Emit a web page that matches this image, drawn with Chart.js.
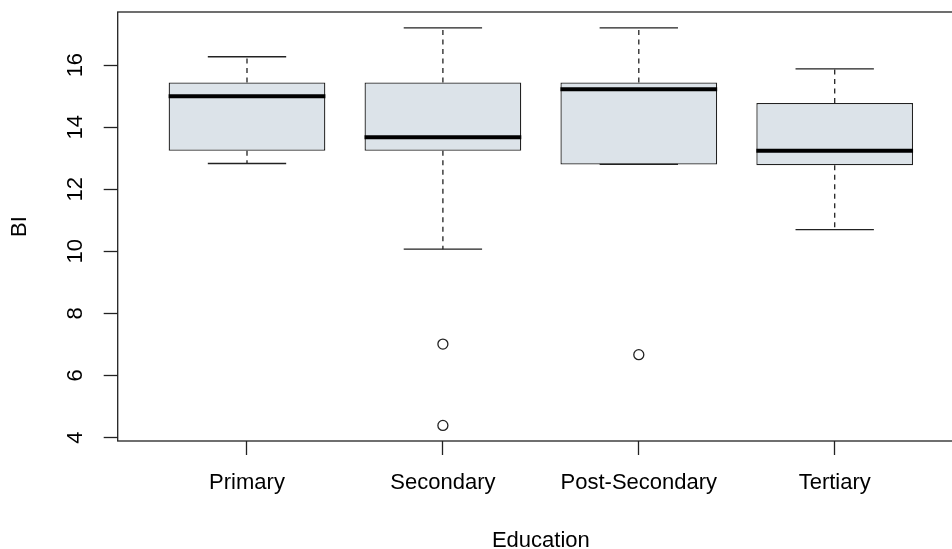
<!DOCTYPE html>
<html>
<head>
<meta charset="utf-8">
<script src="https://cdn.jsdelivr.net/npm/chart.js@4"></script>
<style>
  html, body { margin: 0; padding: 0; background: #fff; overflow: hidden; }
  canvas { display: block; }
</style>
</head>
<body>
<canvas id="chart" width="1000" height="560"></canvas>
<script>
const categories = ["Primary", "Secondary", "Post-Secondary", "Tertiary"];
const whiskerLow = [12.83, 10.07, 12.80, 10.70];
const q1 = [13.24, 13.24, 12.80, 12.77];
const medians = [15.0, 13.68, 15.22, 13.24];
const q3 = [15.44, 15.44, 15.44, 14.78];
const whiskerHigh = [16.27, 17.2, 17.2, 15.88];
const outlierGroup = [2, 2, 3];
const outlierValues = [7.01, 4.39, 6.67];
const yTicks = [4, 6, 8, 10, 12, 14, 16];

const font = { family: "'Liberation Sans', Arial, sans-serif", size: 22 };
const ink = "#222";

// whiskers, caps, medians and the box frame
const boxExtras = {
  id: "boxExtras",
  afterDatasetsDraw(chart) {
    const { ctx, chartArea } = chart;
    const y = chart.scales.y;
    const bars = chart.getDatasetMeta(0).data;
    ctx.save();
    ctx.strokeStyle = ink;
    bars.forEach((bar, i) => {
      const cx = bar.x;
      const half = bar.width / 2;
      const cap = bar.width / 4;
      ctx.lineWidth = 1.3;
      ctx.setLineDash([5, 4.5]);
      ctx.beginPath();
      ctx.moveTo(cx, y.getPixelForValue(q3[i]));
      ctx.lineTo(cx, y.getPixelForValue(whiskerHigh[i]));
      ctx.moveTo(cx, y.getPixelForValue(q1[i]));
      ctx.lineTo(cx, y.getPixelForValue(whiskerLow[i]));
      ctx.stroke();
      ctx.setLineDash([]);
      ctx.beginPath();
      const hi = y.getPixelForValue(whiskerHigh[i]);
      const lo = y.getPixelForValue(whiskerLow[i]);
      ctx.moveTo(cx - cap, hi); ctx.lineTo(cx + cap, hi);
      ctx.moveTo(cx - cap, lo); ctx.lineTo(cx + cap, lo);
      ctx.stroke();
      ctx.lineWidth = 4;
      ctx.strokeStyle = "#000";
      ctx.beginPath();
      const m = y.getPixelForValue(medians[i]);
      ctx.moveTo(cx - half, m); ctx.lineTo(cx + half, m);
      ctx.stroke();
      ctx.strokeStyle = ink;
    });
    ctx.lineWidth = 1.3;
    ctx.strokeRect(chartArea.left, chartArea.top, chartArea.right - chartArea.left, chartArea.bottom - chartArea.top);
    ctx.restore();
  }
};

new Chart(document.getElementById("chart"), {
  type: "bar",
  data: {
    datasets: [
      {
        data: categories.map((c, i) => ({ x: i + 1, y: [q1[i], q3[i]] })),
        backgroundColor: "#dce3e9",
        borderColor: ink,
        borderWidth: 1.3,
        borderSkipped: false,
        barPercentage: 0.8,
        categoryPercentage: 1.0
      },
      {
        type: "scatter",
        data: outlierValues.map((v, i) => ({ x: outlierGroup[i], y: v })),
        pointStyle: "circle",
        pointRadius: 5,
        backgroundColor: "#fff",
        borderColor: ink,
        borderWidth: 1.3
      }
    ]
  },
  options: {
    responsive: false,
    animation: false,
    layout: { padding: { top: 12, right: 36, left: 0, bottom: 0 } },
    plugins: { legend: { display: false }, tooltip: { enabled: false } },
    scales: {
      x: {
        type: "linear",
        min: 0.34,
        max: 4.66,
        offset: false,
        afterBuildTicks: s => { s.ticks = categories.map((c, i) => ({ value: i + 1 })); },
        afterFit: s => { s.height = 119; s.paddingLeft = 0; s.paddingRight = 0; },
        grid: { display: true, offset: false, drawOnChartArea: false, tickLength: 14, tickColor: ink, tickWidth: 1.3 },
        border: { display: false },
        ticks: {
          font: font,
          color: "#000",
          padding: 15,
          maxRotation: 0,
          autoSkip: false,
          callback: v => categories[v - 1]
        },
        title: { display: true, text: "Education", font: { ...font, lineHeight: 1 }, color: "#000", padding: { top: 0, bottom: 8.5 } }
      },
      y: {
        min: 3.888,
        max: 17.712,
        afterBuildTicks: s => { s.ticks = yTicks.map(v => ({ value: v })); },
        afterFit: s => { s.width = 117.7; s.paddingTop = 0; s.paddingBottom = 0; },
        grid: { display: true, drawOnChartArea: false, tickLength: 14, tickColor: ink, tickWidth: 1.3 },
        border: { display: false },
        ticks: {
          font: font,
          color: "#000",
          padding: 16,
          minRotation: 90,
          maxRotation: 90,
          crossAlign: "center"
        },
        title: { display: true, text: "BI", font: { ...font, lineHeight: 1 }, color: "#000", padding: { top: 9, bottom: 0 } }
      }
    }
  },
  plugins: [boxExtras]
});
</script>
</body>
</html>
